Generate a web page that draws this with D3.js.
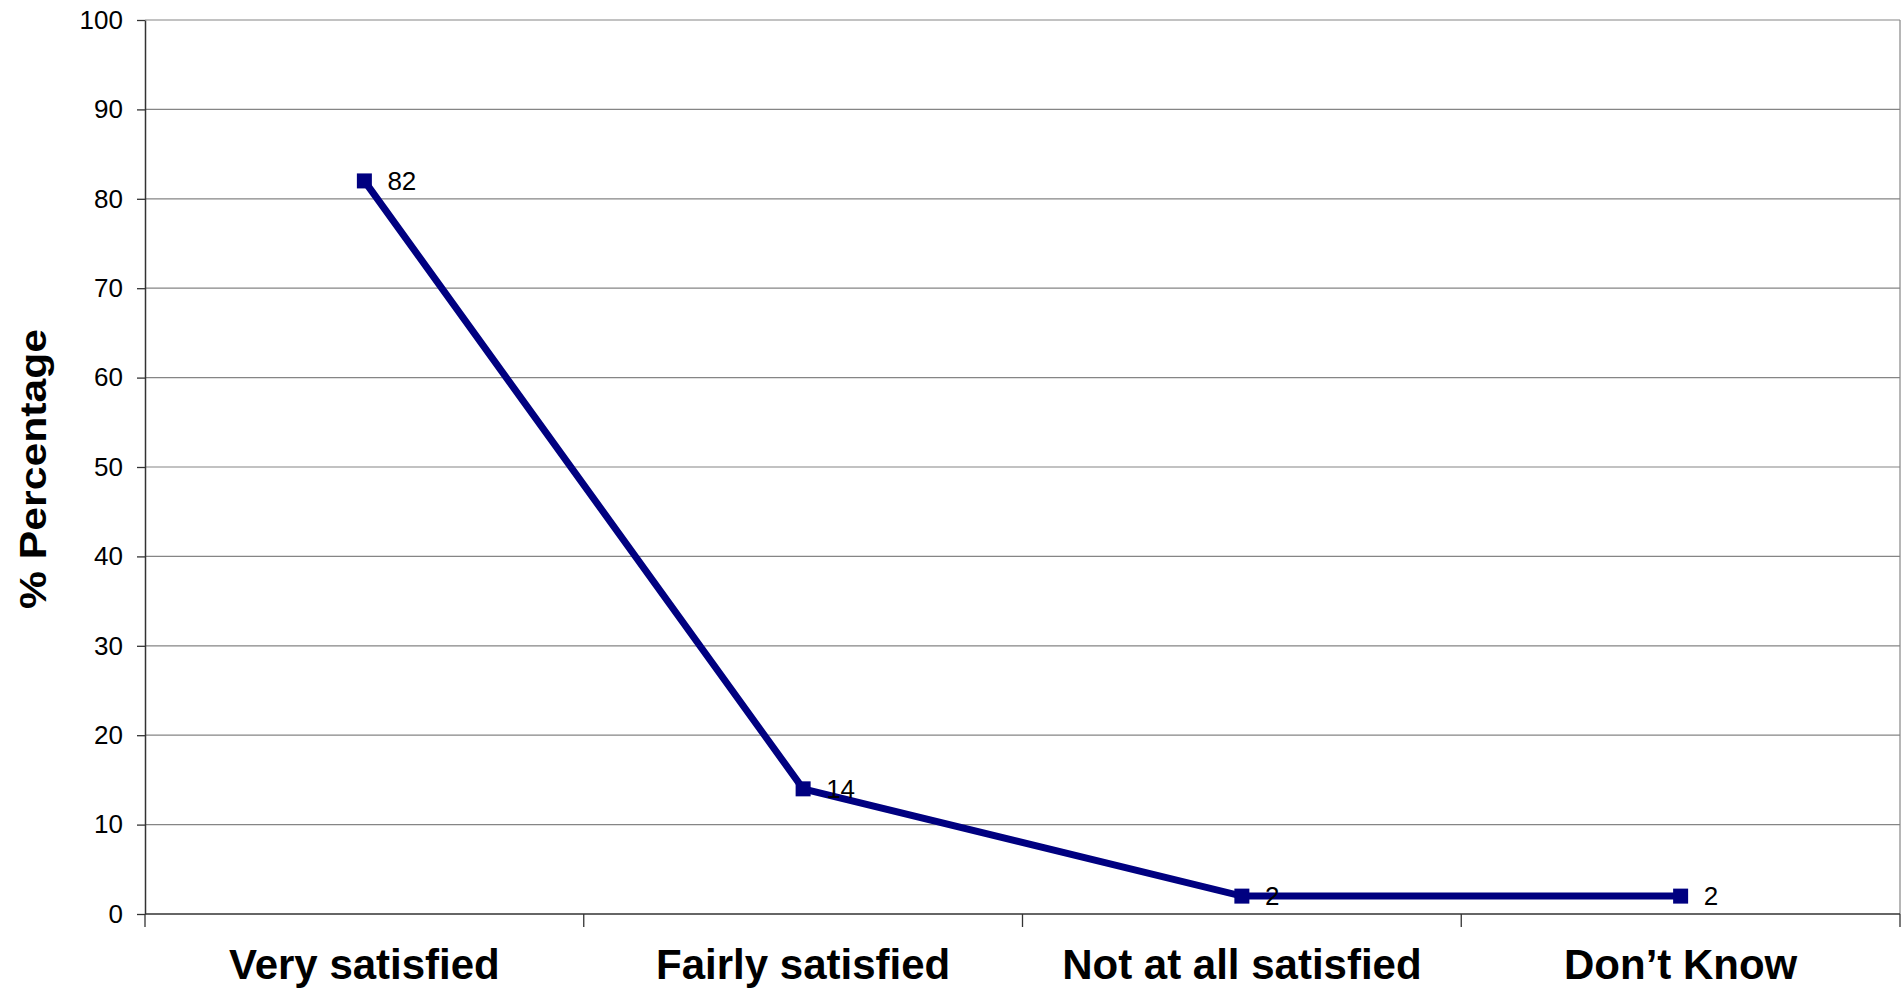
<!DOCTYPE html>
<html>
<head>
<meta charset="utf-8">
<script src="https://cdn.jsdelivr.net/npm/d3@7"></script>
<style>
  html, body { margin: 0; padding: 0; background: #fff; }
  svg { display: block; font-family: "Liberation Sans", Arial, sans-serif; }
</style>
</head>
<body>
<svg id="chart" width="1904" height="992"></svg>
<script>
const categories = ["Very satisfied", "Fairly satisfied", "Not at all satisfied", "Don\u2019t Know"];
const values = [82, 14, 2, 2];
const yTicks = [0, 10, 20, 30, 40, 50, 60, 70, 80, 90, 100];
const yTitle = "% Percentage";

(function () {
const svg = d3.select("#chart");
const mLeft = 145, mRight = 1900, mTop = 20, mBottom = 914;

const x = d3.scaleBand().domain(categories).range([mLeft, mRight]);
const y = d3.scaleLinear().domain([0, 100]).range([mBottom, mTop]);

// gridlines
svg.append("g")
  .selectAll("line")
  .data(yTicks.filter(t => t > 0))
  .join("line")
  .attr("x1", mLeft).attr("x2", mRight)
  .attr("y1", d => y(d)).attr("y2", d => y(d))
  .attr("stroke", "#858585").attr("stroke-width", 1.2);

// right border of plot area
svg.append("line")
  .attr("x1", mRight).attr("x2", mRight)
  .attr("y1", y(100)).attr("y2", y(0))
  .attr("stroke", "#858585").attr("stroke-width", 1.2);

// y axis
const yAxis = svg.append("g")
  .attr("transform", `translate(${mLeft},0)`)
  .call(d3.axisLeft(y).tickValues(yTicks).tickSize(8).tickSizeOuter(0).tickPadding(14));
yAxis.selectAll("path.domain").attr("stroke", "#333").attr("stroke-width", 1.5);
yAxis.selectAll(".tick line").attr("stroke", "#333").attr("stroke-width", 1.3);
yAxis.selectAll(".tick text")
  .attr("font-size", 26).attr("fill", "#000")
  .attr("font-family", "'Liberation Sans', Arial, sans-serif");

// x axis
const boundaries = categories.map(c => x(c)).concat([x.range()[1]]);
svg.append("line")
  .attr("x1", mLeft).attr("x2", mRight)
  .attr("y1", y(0)).attr("y2", y(0))
  .attr("stroke", "#333").attr("stroke-width", 1.5);
svg.append("g")
  .selectAll("line")
  .data(boundaries)
  .join("line")
  .attr("x1", d => d).attr("x2", d => d)
  .attr("y1", y(0)).attr("y2", y(0) + 13)
  .attr("stroke", "#333").attr("stroke-width", 1.3);

svg.append("g")
  .selectAll("text")
  .data(categories)
  .join("text")
  .attr("x", d => x(d) + x.bandwidth() / 2)
  .attr("y", 979)
  .attr("text-anchor", "middle")
  .attr("font-size", 42)
  .attr("font-weight", "bold")
  .attr("fill", "#000")
  .text(d => d);

// y title
svg.append("text")
  .attr("transform", `translate(46,${(mTop + mBottom) / 2 + 2}) rotate(-90)`)
  .attr("text-anchor", "middle")
  .attr("font-size", 36)
  .attr("font-weight", "bold")
  .attr("textLength", 280)
  .attr("lengthAdjust", "spacingAndGlyphs")
  .attr("fill", "#000")
  .text(yTitle);

// line
const pts = categories.map((c, i) => ({ c, v: values[i] }));
const cx = d => x(d.c) + x.bandwidth() / 2;
svg.append("path")
  .datum(pts)
  .attr("fill", "none")
  .attr("stroke", "#000080")
  .attr("stroke-width", 7)
  .attr("d", d3.line().x(cx).y(d => y(d.v)));

svg.append("g")
  .selectAll("rect")
  .data(pts)
  .join("rect")
  .attr("x", d => cx(d) - 7.5)
  .attr("y", d => y(d.v) - 7.5)
  .attr("width", 15).attr("height", 15)
  .attr("fill", "#000080");

svg.append("g")
  .selectAll("text")
  .data(pts)
  .join("text")
  .attr("x", d => cx(d) + 23)
  .attr("y", d => y(d.v))
  .attr("dy", "0.36em")
  .attr("font-size", 26)
  .attr("fill", "#000")
  .text(d => d.v);
})();
</script>
</body>
</html>
